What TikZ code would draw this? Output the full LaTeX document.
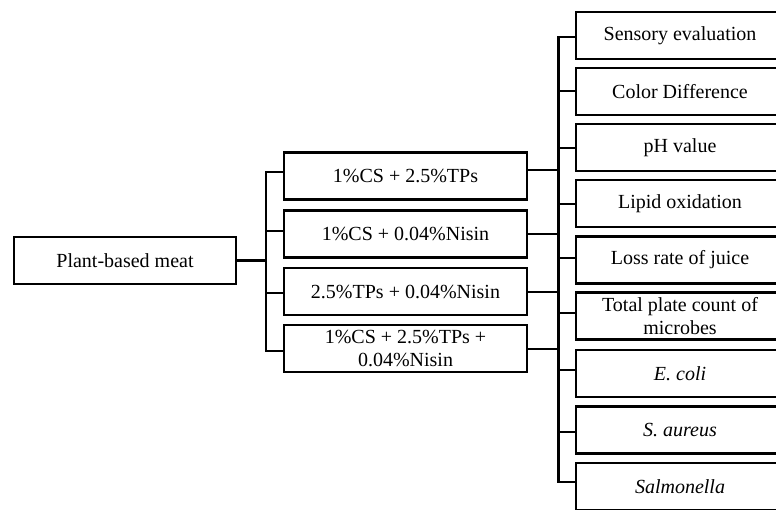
\documentclass[tikz,border=0pt]{standalone}
\usepackage{fontspec}
\setmainfont{Liberation Serif}
\begin{document}
\begin{tikzpicture}[x=1pt,y=-1pt,
  box/.style={draw=black, line width=2.6pt, inner sep=0pt, align=center,
    font=\fontsize{20}{23}\selectfont, text=black},
  lbox/.style={box, minimum width=222pt, minimum height=47pt},
  mbox/.style={box, minimum width=243pt, minimum height=47pt},
  rbox/.style={box, minimum width=208pt, minimum height=47pt},
  conn/.style={draw=black, line width=2.6pt}]
\useasboundingbox (0,0) rectangle (776,509);
\fill[white] (0,0) rectangle (776,509);
% left
\node[lbox] (pbm) at (125,260.5) {Plant-based meat};
% middle
\node[mbox] (m1) at (405.5,176) {1\%CS + 2.5\%TPs};
\node[mbox] (m2) at (405.5,234) {1\%CS + 0.04\%Nisin};
\node[mbox] (m3) at (405.5,291.5) {2.5\%TPs + 0.04\%Nisin};
\node[mbox] (m4) at (405.5,348.5) {1\%CS + 2.5\%TPs +\\0.04\%Nisin};
% right
\node[rbox] (r1) at (680,35.5) {Sensory evaluation};
\node[rbox] (r2) at (680,91.5) {Color Difference};
\node[rbox] (r3) at (680,147.5) {pH value};
\node[rbox] (r4) at (680,203.5) {Lipid oxidation};
\node[rbox] (r5) at (680,260) {Loss rate of juice};
\node[rbox] (r6) at (680,316) {Total plate count of\\microbes};
\node[rbox] (r7) at (680,373.5) {\textit{E. coli}};
\node[rbox] (r8) at (680,430) {\textit{S. aureus}};
\node[rbox] (r9) at (680,486.5) {\textit{Salmonella}};
% bus coordinates
\coordinate (lbT) at (266,172);
\coordinate (lbB) at (266,351);
\coordinate (rbT) at (558.5,37);
\coordinate (rbB) at (558.5,482);
% left tree
\draw[conn] (pbm.east) -- (pbm.east -| lbT);
\draw[conn, line cap=rect] (lbT) -- (lbB);
\draw[conn] (lbT) -- (m1.west |- lbT);
\draw[conn] (266,231) -- (m2.west |- 0,231);
\draw[conn] (266,293) -- (m3.west |- 0,293);
\draw[conn] (lbB) -- (m4.west |- lbB);
% middle to right bus
\draw[conn] (m1.east |- 0,170) -- (558.5,170);
\draw[conn] (m2.east) -- (558.5,234);
\draw[conn] (m3.east |- 0,292) -- (558.5,292);
\draw[conn] (m4.east |- 0,349) -- (558.5,349);
% right tree
\draw[conn, line cap=rect] (rbT) -- (rbB);
\draw[conn] (rbT) -- (r1.west |- rbT);
\draw[conn] (558.5,91) -- (r2.west |- 0,91);
\draw[conn] (558.5,148) -- (r3.west |- 0,148);
\draw[conn] (558.5,204) -- (r4.west |- 0,204);
\draw[conn] (558.5,258) -- (r5.west |- 0,258);
\draw[conn] (558.5,313) -- (r6.west |- 0,313);
\draw[conn] (558.5,370) -- (r7.west |- 0,370);
\draw[conn] (558.5,432) -- (r8.west |- 0,432);
\draw[conn] (rbB) -- (r9.west |- rbB);
\end{tikzpicture}
\end{document}
